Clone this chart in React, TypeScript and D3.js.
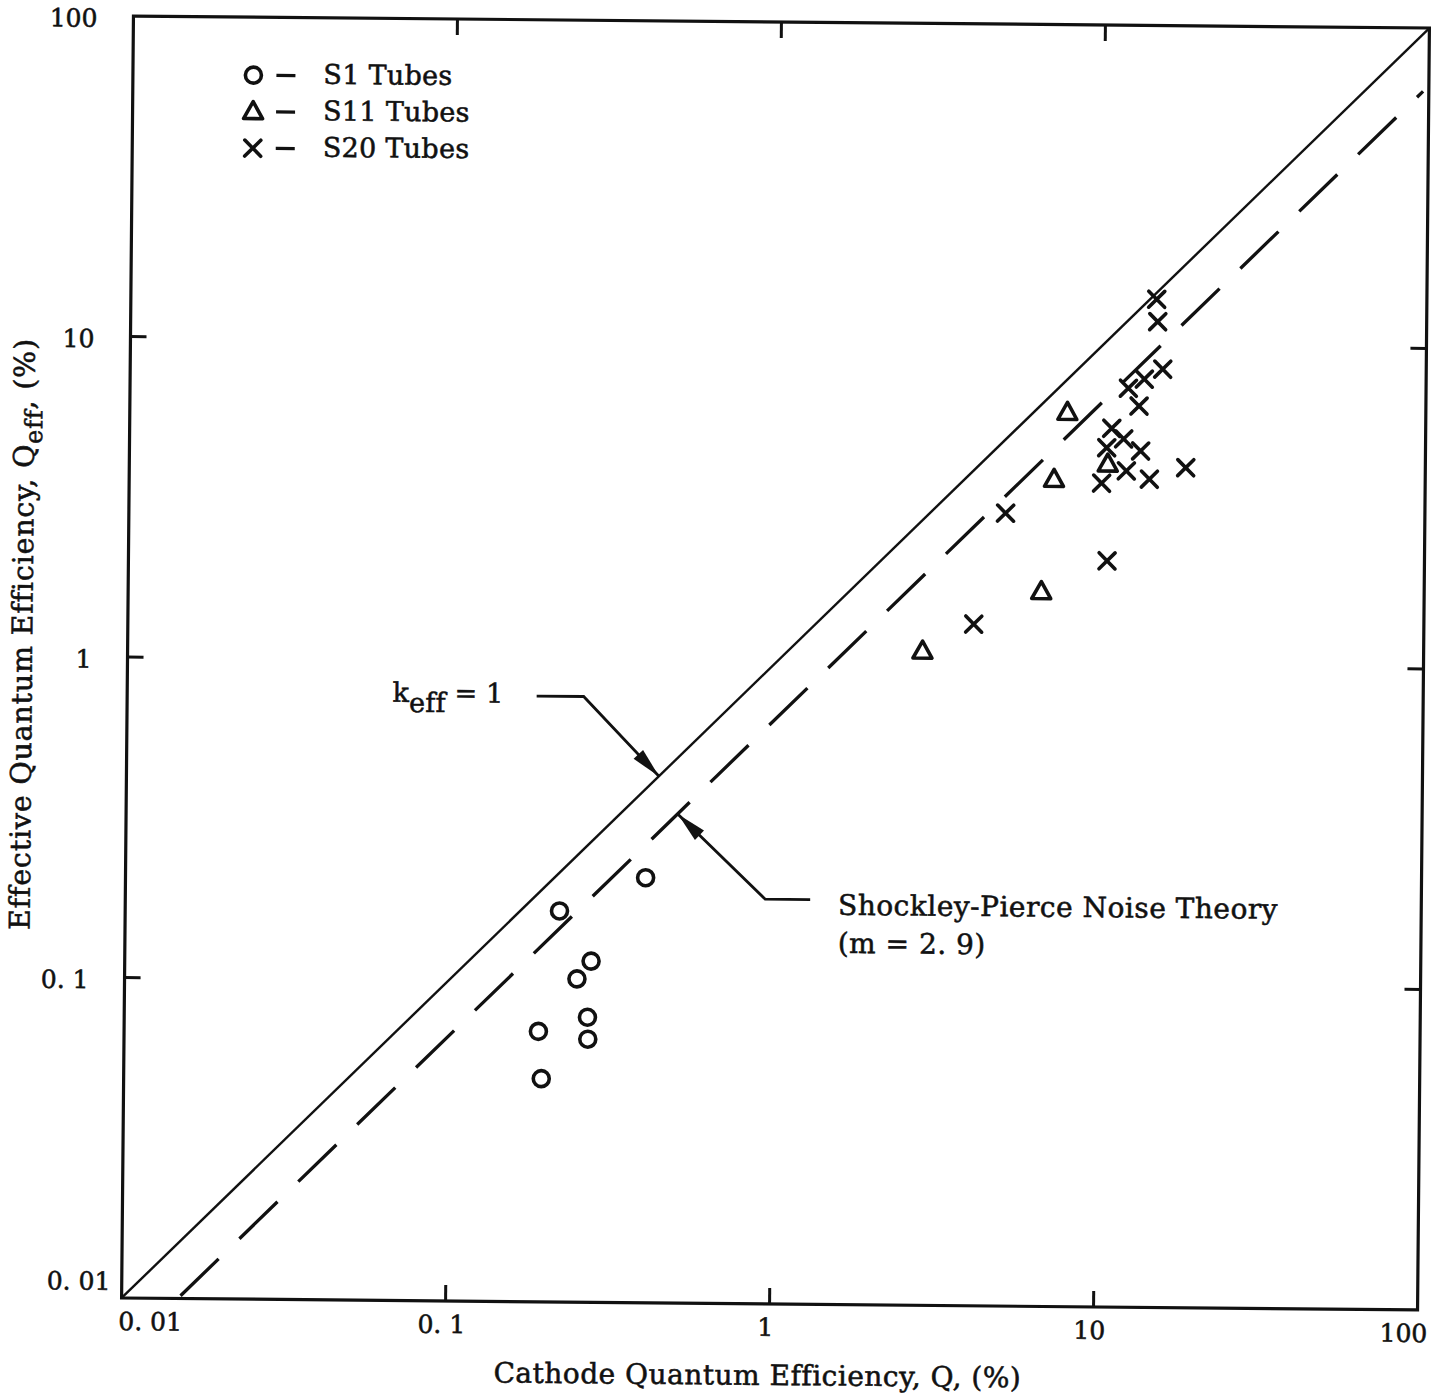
import { useEffect, useRef } from "react";
import * as d3 from "d3";

// S1 tubes (circles): cathode QE %, effective QE %
const s1Q = [0.403, 0.219, 0.275, 0.249, 0.269, 0.27, 0.19, 0.1945];
const s1Qeff = [0.212, 0.166, 0.116, 0.102, 0.0775, 0.0662, 0.0698, 0.0497];

// S11 tubes (triangles)
const s11Q = [7.83, 7.15, 10.47, 6.58, 2.84];
const s11Qeff = [6.17, 3.81, 4.27, 1.7, 1.1];

// S20 tubes (crosses)
const s20Q = [14.66, 14.79, 15.37, 13.5, 12.06, 13.02, 10.74, 11.7, 10.38, 13.21, 11.95, 18.22, 14.08, 10.03, 5.08, 10.48, 4.08];
const s20Qeff = [13.99, 11.91, 8.47, 7.88, 7.37, 6.49, 5.52, 5.12, 4.8, 4.7, 4.07, 4.18, 3.84, 3.72, 2.98, 2.13, 1.34];

// reference lines
const keffLine: [number, number][] = [[0.01, 0.01], [100, 100]];
const shockleyLine: [number, number][] = [[0.0152, 0.0102], [96, 63.4]];

// where the leader arrows touch the lines
const keffArrowAt: [number, number] = [0.44, 0.44];
const shockleyArrowAt: [number, number] = [0.505, 0.335];

const xTicks = [0.01, 0.1, 1, 10, 100];
const xTickLabels = ["0. 01", "0. 1", "1", "10", "100"];
const yTicks = [100, 10, 1, 0.1, 0.01];
const yTickLabels = ["100", "10", "1", "0. 1", "0. 01"];
const innerTicks = [0.1, 1, 10];

const legendItems = [
  { shape: "circle", label: "S1 Tubes" },
  { shape: "triangle", label: "S11 Tubes" },
  { shape: "cross", label: "S20 Tubes" },
];

const FONT = "'DejaVu Serif', serif";
const INK = "#111";

export default function App() {
  const svgRef = useRef<SVGSVGElement>(null);

  useEffect(() => {
    const el = svgRef.current;
    if (!el) return;
    d3.select(el).selectAll("*").remove();

    const W = 1446;
    const H = 1395;
    const m = { left: 127.5, right: 1423.5, top: 22, bottom: 1304 };
    const cx = (m.left + m.right) / 2;
    const cy = (m.top + m.bottom) / 2;

    const svg = d3.select(el).attr("width", W).attr("height", H);
    svg.append("rect").attr("width", W).attr("height", H).attr("fill", "#fff");

    // the scanned page is slightly skewed
    const g = svg.append("g").attr("transform", `rotate(0.53,${cx},${cy})`);

    const xs = d3.scaleLog().domain([0.01, 100]).range([m.left, m.right]);
    const ys = d3.scaleLog().domain([0.01, 100]).range([m.bottom, m.top]);

    // frame
    g.append("rect")
      .attr("x", m.left)
      .attr("y", m.top)
      .attr("width", m.right - m.left)
      .attr("height", m.bottom - m.top)
      .attr("fill", "none")
      .attr("stroke", INK)
      .attr("stroke-width", 3.2);

    // inward ticks on all four sides
    const tk = 16;
    const tickG = g.append("g").attr("stroke", INK).attr("stroke-width", 3);
    innerTicks.forEach((v) => {
      tickG.append("line").attr("x1", xs(v)).attr("x2", xs(v)).attr("y1", m.top).attr("y2", m.top + tk);
      tickG.append("line").attr("x1", xs(v)).attr("x2", xs(v)).attr("y1", m.bottom).attr("y2", m.bottom - tk);
      tickG.append("line").attr("y1", ys(v)).attr("y2", ys(v)).attr("x1", m.left).attr("x2", m.left + tk);
      tickG.append("line").attr("y1", ys(v)).attr("y2", ys(v)).attr("x1", m.right).attr("x2", m.right - tk);
    });

    // typewriter-ish heavy serif
    const txt = (sel: any, size = 25, spacing = 0) =>
      sel
        .attr("font-family", FONT)
        .attr("font-size", size)
        .attr("letter-spacing", spacing)
        .attr("fill", INK)
        .attr("stroke", INK)
        .attr("stroke-width", 0.55);

    // x tick labels
    xTicks.forEach((v, i) => {
      const last = i === xTicks.length - 1;
      const first = i === 0;
      txt(g.append("text"))
        .attr("x", xs(v) + (first ? -3 : last ? 10 : -4))
        .attr("y", m.bottom + 32)
        .attr("text-anchor", first ? "start" : last ? "end" : "middle")
        .text(xTickLabels[i]);
    });

    // y tick labels (the bottom one sits above the corner, pushed left)
    yTicks.forEach((v, i) => {
      const clamped = ys(v) + 11 > m.bottom - 8;
      txt(g.append("text"))
        .attr("x", clamped ? m.left - 75 : m.left - 36)
        .attr("y", clamped ? m.bottom - 8 : ys(v) + 11)
        .attr("text-anchor", clamped ? "start" : "end")
        .text(yTickLabels[i]);
    });

    // axis titles
    txt(g.append("text"), 28, 0.5)
      .attr("x", 764)
      .attr("y", 1385)
      .attr("text-anchor", "middle")
      .text("Cathode Quantum Efficiency,  Q,  (%)");

    const yt = txt(g.append("text"), 28.5, 0.8)
      .attr("transform", `translate(32,641) rotate(-90)`)
      .attr("text-anchor", "middle");
    yt.append("tspan").text("Effective Quantum Efficiency,  Q");
    yt.append("tspan").attr("dy", 8).attr("font-size", 24).text("eff");
    yt.append("tspan").attr("dy", -8).text(",  (%)");

    // lines
    const line = d3
      .line<[number, number]>()
      .x((d) => xs(d[0]))
      .y((d) => ys(d[1]));

    g.append("path")
      .attr("d", line(keffLine))
      .attr("fill", "none")
      .attr("stroke", INK)
      .attr("stroke-width", 2.4);

    g.append("path")
      .attr("d", line(shockleyLine))
      .attr("fill", "none")
      .attr("stroke", INK)
      .attr("stroke-width", 3.3)
      .attr("stroke-dasharray", "53 29");

    // markers
    const drawCircle = (sel: any, x: number, y: number) =>
      sel.append("circle")
        .attr("cx", x)
        .attr("cy", y)
        .attr("r", 8)
        .attr("fill", "none")
        .attr("stroke", INK)
        .attr("stroke-width", 3.6);
    const drawTriangle = (sel: any, x: number, y: number) =>
      sel.append("path")
        .attr("d", `M${x},${y - 10}L${x + 9.5},${y + 7}L${x - 9.5},${y + 7}Z`)
        .attr("fill", "none")
        .attr("stroke", INK)
        .attr("stroke-width", 3.6)
        .attr("stroke-linejoin", "round");
    const drawCross = (sel: any, x: number, y: number) => {
      const s = 8;
      sel.append("path")
        .attr("d", `M${x - s},${y - s}L${x + s},${y + s}M${x - s},${y + s}L${x + s},${y - s}`)
        .attr("stroke", INK)
        .attr("stroke-width", 3.6)
        .attr("stroke-linecap", "round");
    };
    const drawers: Record<string, (sel: any, x: number, y: number) => void> = {
      circle: drawCircle,
      triangle: drawTriangle,
      cross: drawCross,
    };

    const pts = g.append("g");
    s1Q.forEach((q, i) => drawCircle(pts, xs(q), ys(s1Qeff[i])));
    s11Q.forEach((q, i) => drawTriangle(pts, xs(q), ys(s11Qeff[i])));
    s20Q.forEach((q, i) => drawCross(pts, xs(q), ys(s20Qeff[i])));

    // legend
    const lg = g.append("g");
    legendItems.forEach((it, i) => {
      const y = 80 + i * 36.5;
      drawers[it.shape](lg, 248, y);
      lg.append("line")
        .attr("x1", 271)
        .attr("x2", 290)
        .attr("y1", y)
        .attr("y2", y)
        .attr("stroke", INK)
        .attr("stroke-width", 3.2);
      txt(lg.append("text"), 27, 0.3).attr("x", 318).attr("y", y + 8).text(it.label);
    });

    // annotation arrows
    const arrow = (tip: [number, number], knee: [number, number], end: [number, number]) => {
      g.append("path")
        .attr("d", `M${end[0]},${end[1]}L${knee[0]},${knee[1]}L${tip[0]},${tip[1]}`)
        .attr("fill", "none")
        .attr("stroke", INK)
        .attr("stroke-width", 2.8);
      const ang = Math.atan2(tip[1] - knee[1], tip[0] - knee[0]);
      const L = 30;
      const w = 6.5;
      const bx = tip[0] - L * Math.cos(ang);
      const by = tip[1] - L * Math.sin(ang);
      const nx = -Math.sin(ang) * w;
      const ny = Math.cos(ang) * w;
      g.append("path")
        .attr("d", `M${tip[0]},${tip[1]}L${bx + nx},${by + ny}L${bx - nx},${by - ny}Z`)
        .attr("fill", INK);
    };

    const kTip: [number, number] = [xs(keffArrowAt[0]), ys(keffArrowAt[1])];
    const kKnee: [number, number] = [kTip[0] - 76, kTip[1] - 79];
    const kEnd: [number, number] = [kKnee[0] - 47, kKnee[1]];
    arrow(kTip, kKnee, kEnd);
    const kt = txt(g.append("text"), 27, 0.2).attr("x", kEnd[0] - 144).attr("y", kEnd[1] + 7);
    kt.append("tspan").text("k");
    kt.append("tspan").attr("dy", 10).text("eff");
    kt.append("tspan").attr("dy", -10).text(" = 1");

    const sTip: [number, number] = [xs(shockleyArrowAt[0]), ys(shockleyArrowAt[1])];
    const sKnee: [number, number] = [sTip[0] + 88, sTip[1] + 84];
    const sEnd: [number, number] = [sKnee[0] + 45, sKnee[1]];
    arrow(sTip, sKnee, sEnd);
    txt(g.append("text"), 28, 0.5)
      .attr("x", sEnd[0] + 28)
      .attr("y", sEnd[1] + 15)
      .text("Shockley-Pierce Noise Theory");
    txt(g.append("text"), 28, 0.5)
      .attr("x", sEnd[0] + 28)
      .attr("y", sEnd[1] + 53)
      .text("(m = 2. 9)");
  }, []);

  return (
    <svg
      ref={svgRef}
      style={{ position: "absolute", left: 0, top: 0, display: "block" }}
    />
  );
}
